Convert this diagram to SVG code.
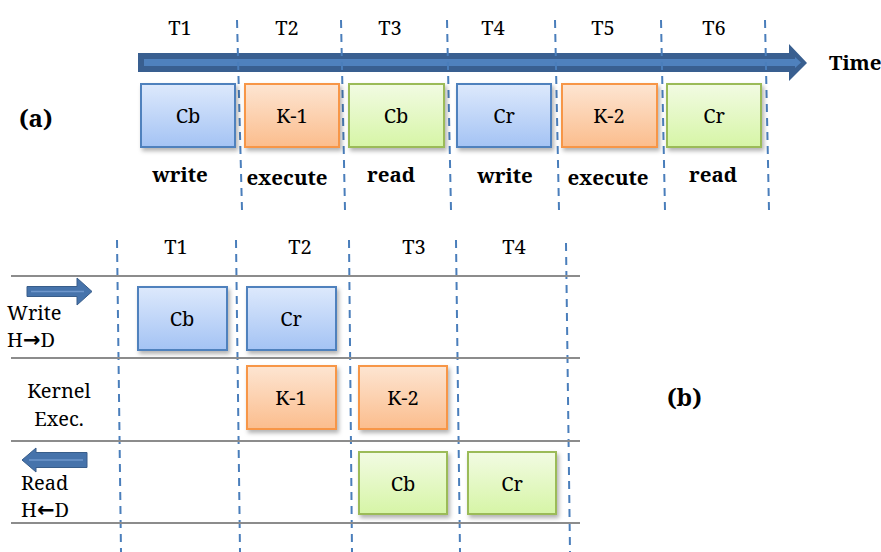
<svg xmlns="http://www.w3.org/2000/svg" width="881" height="552" viewBox="0 0 881 552">
  <defs>
    <linearGradient id="gBlue" x1="0" y1="0" x2="0" y2="1">
      <stop offset="0" stop-color="#dde9fc"/>
      <stop offset="1" stop-color="#a4c3f4"/>
    </linearGradient>
    <linearGradient id="gOrange" x1="0" y1="0" x2="0" y2="1">
      <stop offset="0" stop-color="#fde5d2"/>
      <stop offset="1" stop-color="#fbbd8d"/>
    </linearGradient>
    <linearGradient id="gGreen" x1="0" y1="0" x2="0" y2="1">
      <stop offset="0" stop-color="#f2fbe3"/>
      <stop offset="1" stop-color="#d6f5a6"/>
    </linearGradient>
    <filter id="shadow" x="-10%" y="-10%" width="130%" height="140%">
      <feDropShadow dx="2" dy="3" stdDeviation="2" flood-color="#000" flood-opacity="0.3"/>
    </filter>
  </defs>
  <style>
    text { font-family: 'Noto Serif', 'DejaVu Serif', serif; fill: #000; }
    .txt { font-size: 20px; }
    .bold { font-size: 20.5px; font-weight: bold; }
    .panel { font-size: 24px; font-weight: bold; }
    .mid { text-anchor: middle; }
    .arr { font-family: 'DejaVu Sans', sans-serif; font-weight: bold; font-size: 21px; }
    .dash { stroke: #4a7ebb; stroke-width: 2; stroke-dasharray: 8 6; fill: none; }
    .row { stroke: #8c8c8c; stroke-width: 2; }
    .box { stroke-width: 2; filter: url(#shadow); }
    .blue { fill: url(#gBlue); stroke: #4f81bd; }
    .orange { fill: url(#gOrange); stroke: #f79646; }
    .green { fill: url(#gGreen); stroke: #9bbb59; }
  </style>
  <rect width="881" height="552" fill="#fff"/>

  <!-- (a) sequential schedule -->
  <g id="timeline-a">
    <polygon points="138,53 789,53 789,44 807,63 789,81 789,72 138,72" fill="#395f90"/>
    <polygon points="144,59 795,59 795,57 801,62.5 795,68 795,66 144,66" fill="#4f81bd"/>
    <text class="bold" x="829" y="70">Time</text>
  </g>

  <g id="slots-a">
    <line class="dash" x1="237" y1="20" x2="242" y2="210"/>
    <line class="dash" x1="341" y1="20" x2="345" y2="210"/>
    <line class="dash" x1="447" y1="20" x2="451" y2="210"/>
    <line class="dash" x1="555" y1="20" x2="559" y2="210"/>
    <line class="dash" x1="661" y1="20" x2="665" y2="210"/>
    <line class="dash" x1="765" y1="20" x2="769" y2="210"/>
    <text class="txt mid" x="180" y="35">T1</text>
    <text class="txt mid" x="287" y="35">T2</text>
    <text class="txt mid" x="390" y="35">T3</text>
    <text class="txt mid" x="493" y="35">T4</text>
    <text class="txt mid" x="603" y="35">T5</text>
    <text class="txt mid" x="714" y="35">T6</text>
  </g>

  <text id="label-a" class="panel" x="19" y="127">(a)</text>

  <g id="a-write-cb">
    <rect class="box blue" x="141" y="84" width="94" height="63"/>
    <text class="txt mid" x="188" y="123">Cb</text>
    <text class="bold mid" x="180" y="182">write</text>
  </g>
  <g id="a-exec-k1">
    <rect class="box orange" x="245" y="84" width="94" height="63"/>
    <text class="txt mid" x="292" y="123">K-1</text>
    <text class="bold mid" x="287" y="185">execute</text>
  </g>
  <g id="a-read-cb">
    <rect class="box green" x="349" y="84" width="95" height="63"/>
    <text class="txt mid" x="396" y="123">Cb</text>
    <text class="bold mid" x="391" y="182">read</text>
  </g>
  <g id="a-write-cr">
    <rect class="box blue" x="457" y="84" width="94" height="63"/>
    <text class="txt mid" x="504" y="123">Cr</text>
    <text class="bold mid" x="505" y="183">write</text>
  </g>
  <g id="a-exec-k2">
    <rect class="box orange" x="562" y="84" width="95" height="63"/>
    <text class="txt mid" x="609" y="123">K-2</text>
    <text class="bold mid" x="608" y="185">execute</text>
  </g>
  <g id="a-read-cr">
    <rect class="box green" x="667" y="84" width="94" height="63"/>
    <text class="txt mid" x="714" y="123">Cr</text>
    <text class="bold mid" x="713" y="182">read</text>
  </g>

  <!-- (b) overlapped schedule -->
  <g id="grid-b">
    <line class="dash" x1="117" y1="240" x2="121" y2="552"/>
    <line class="dash" x1="236" y1="240" x2="240" y2="552"/>
    <line class="dash" x1="349" y1="240" x2="352" y2="552"/>
    <line class="dash" x1="456" y1="240" x2="460" y2="552"/>
    <line class="dash" x1="566" y1="243" x2="570" y2="552"/>
    <line class="row" x1="11" y1="276" x2="580" y2="276"/>
    <line class="row" x1="11" y1="358" x2="580" y2="358"/>
    <line class="row" x1="11" y1="441" x2="580" y2="441"/>
    <line class="row" x1="11" y1="523" x2="580" y2="523"/>
    <text class="txt mid" x="176" y="254">T1</text>
    <text class="txt mid" x="300" y="254">T2</text>
    <text class="txt mid" x="414" y="254">T3</text>
    <text class="txt mid" x="514" y="254">T4</text>
  </g>

  <g id="row-write">
    <polygon points="27,286.5 77,286.5 77,278 92,291.5 77,305 77,296.5 27,296.5" fill="#4673ab" stroke="#385d8a" stroke-width="1"/>
    <line x1="31" y1="291.5" x2="84" y2="291.5" stroke="#6f97cc" stroke-width="1.5"/>
    <text class="txt" x="7" y="320">Write</text>
    <text class="txt" x="7" y="347">H<tspan class="arr">→</tspan>D</text>
  </g>
  <g id="row-kernel">
    <text class="txt mid" x="59" y="398">Kernel</text>
    <text class="txt mid" x="59" y="426">Exec.</text>
  </g>
  <g id="row-read">
    <polygon points="87,452.5 36,452.5 36,448 22,460 36,472 36,467.5 87,467.5" fill="#4673ab" stroke="#385d8a" stroke-width="1"/>
    <line x1="29" y1="460" x2="83" y2="460" stroke="#6f97cc" stroke-width="1.5"/>
    <text class="txt" x="21" y="490">Read</text>
    <text class="txt" x="21" y="517">H<tspan class="arr">←</tspan>D</text>
  </g>

  <text id="label-b" class="panel" x="667" y="406">(b)</text>

  <g id="b-write-cb">
    <rect class="box blue" x="138" y="287" width="89" height="63"/>
    <text class="txt mid" x="182" y="326">Cb</text>
  </g>
  <g id="b-write-cr">
    <rect class="box blue" x="247" y="287" width="89" height="63"/>
    <text class="txt mid" x="291" y="326">Cr</text>
  </g>
  <g id="b-exec-k1">
    <rect class="box orange" x="247" y="366" width="89" height="63"/>
    <text class="txt mid" x="291" y="405">K-1</text>
  </g>
  <g id="b-exec-k2">
    <rect class="box orange" x="359" y="366" width="88" height="63"/>
    <text class="txt mid" x="403" y="405">K-2</text>
  </g>
  <g id="b-read-cb">
    <rect class="box green" x="359" y="452" width="88" height="62"/>
    <text class="txt mid" x="403" y="491">Cb</text>
  </g>
  <g id="b-read-cr">
    <rect class="box green" x="468" y="452" width="88" height="62"/>
    <text class="txt mid" x="512" y="491">Cr</text>
  </g>
</svg>
